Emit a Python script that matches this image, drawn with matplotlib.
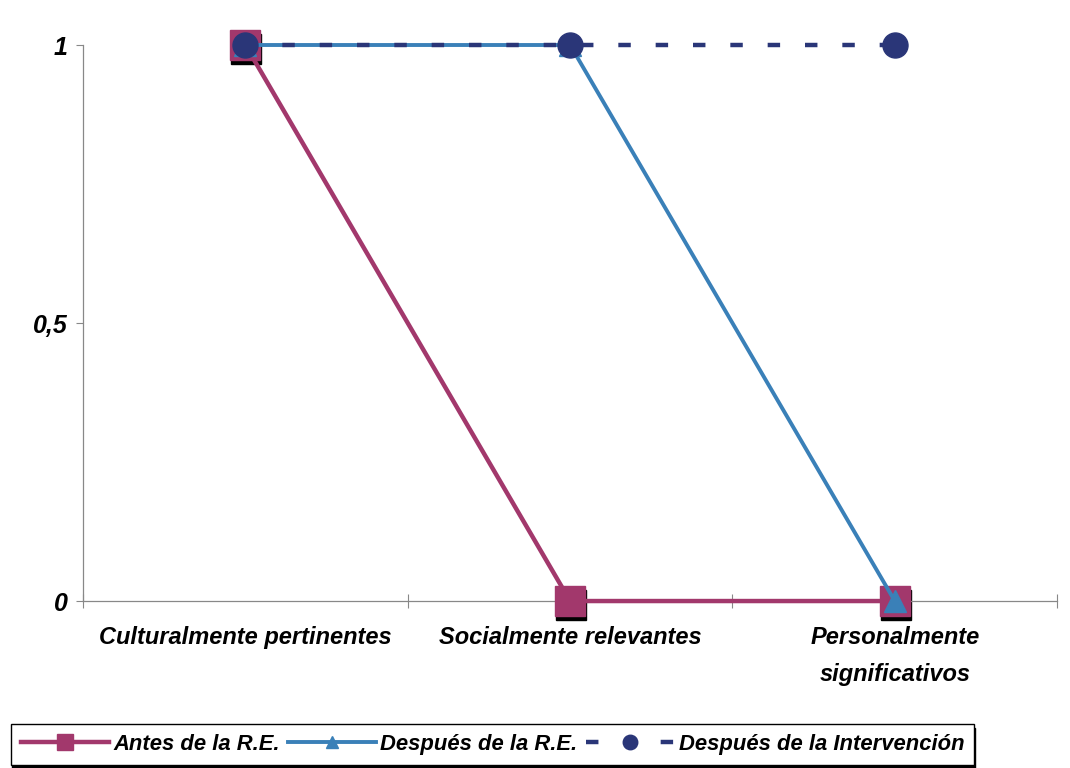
import matplotlib
matplotlib.use("Agg")
import matplotlib.pyplot as plt
from matplotlib.transforms import offset_copy
from matplotlib.ticker import FixedLocator, NullFormatter

categories = ["Culturalmente pertinentes", "Socialmente relevantes", "Personalmente\nsignificativos"]
antes = [1, 0, 0]
despues_re = [1, 1, 0]
despues_int = [1, 1, 1]
series_names = ["Antes de la R.E.", "Después de la R.E.", "Después de la Intervención"]
yticks = [0, 0.5, 1]
ytick_labels = ["0", "0,5", "1"]

MAG = "#a2386c"
BLUE = "#3a80b8"
NAVY = "#2a3678"

plt.rcParams['font.family'] = ['Liberation Sans', 'DejaVu Sans']

fig = plt.figure(figsize=(10.7, 7.68), dpi=100)
ax = fig.add_axes([0.0776, 0.2174, 0.988 - 0.0776, 0.9414 - 0.2174])

x = list(range(len(categories)))

# shadow of square markers
shadow_tr = offset_copy(ax.transData, fig=fig, x=1, y=-4, units='dots')
ax.plot(x, antes, ls='none', marker='s', ms=21, mfc='black', mec='black',
        transform=shadow_tr, zorder=2.5, clip_on=False)

l1, = ax.plot(x, antes, color=MAG, lw=3.2, marker='s', ms=21, mfc=MAG, mec=MAG,
              label=series_names[0], zorder=3)
l2, = ax.plot(x, despues_re, color=BLUE, lw=2.8, marker='^', ms=16, mfc=BLUE, mec=BLUE,
              label=series_names[1], zorder=4)
l3, = ax.plot(x, despues_int, color=NAVY, lw=3.2, ls=(0, (2.8, 5.6)), marker='o', ms=18,
              mfc=NAVY, mec=NAVY, label=series_names[2], zorder=5)

ax.set_xlim(-0.5, len(categories) - 0.5)
ax.set_ylim(0, 1)
ax.set_xticks(x)
ax.set_xticklabels(categories, fontsize=17, fontweight='bold', fontstyle='italic',
                   linespacing=1.75, va='top')
ax.tick_params(axis='x', length=0, pad=18)
ax.xaxis.set_minor_locator(FixedLocator([i + 0.5 for i in range(-1, len(categories))]))
ax.xaxis.set_minor_formatter(NullFormatter())
ax.tick_params(axis='x', which='minor', length=10, direction='inout', color='#888888', width=0.8)
ax.set_yticks(yticks)
ax.set_yticklabels(ytick_labels, fontsize=18, fontweight='bold', fontstyle='italic')
ax.tick_params(axis='y', length=5, direction='out', color='#888888', width=0.8, pad=6)
for s in ['top', 'right']:
    ax.spines[s].set_visible(False)
for s in ['left', 'bottom']:
    ax.spines[s].set_color('#888888')
    ax.spines[s].set_linewidth(0.9)
for l in (l1, l2, l3):
    l.set_clip_on(False)

leg = fig.legend(handles=[l1, l2, l3], loc='lower left', bbox_to_anchor=(0.0, -0.01),
                 ncol=3, frameon=True, fancybox=False, edgecolor='black', handlelength=4.0,
                 handletextpad=0.2, columnspacing=0.4, borderpad=0.45, markerscale=0.58,
                 prop={'weight': 'bold', 'style': 'italic', 'size': 15.8},
                 shadow={'color': 'black', 'alpha': 1.0, 'ox': 1, 'oy': -3})
leg.get_frame().set_linewidth(1.0)

fig.savefig("out.png", dpi=100, facecolor='white')
